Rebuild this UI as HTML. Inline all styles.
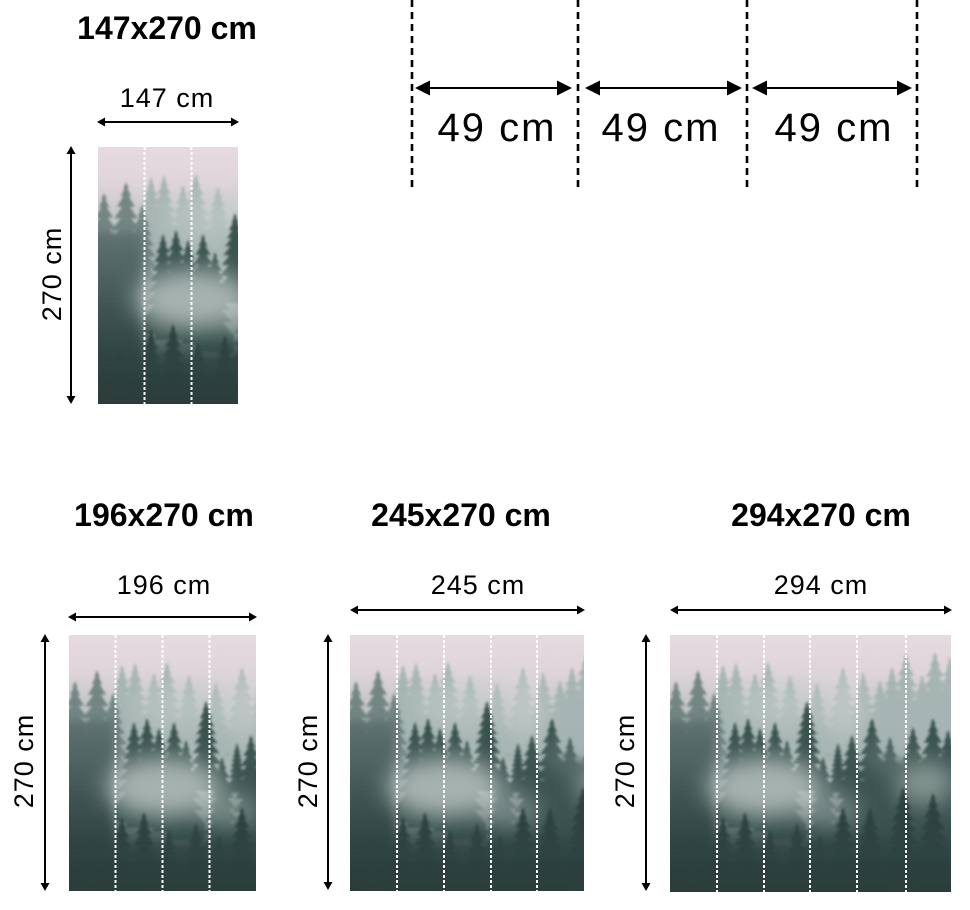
<!DOCTYPE html>
<html><head><meta charset="utf-8">
<style>
html,body{margin:0;padding:0;background:#fff;width:970px;height:910px;overflow:hidden;}
svg{display:block;}
text{font-family:"Liberation Sans",sans-serif;fill:#000;}
.t{font-weight:bold;font-size:32px;}
.l{font-size:27px;letter-spacing:1px;}
.b{font-size:40px;letter-spacing:2px;}
</style></head>
<body>
<svg width="970" height="910" viewBox="0 0 970 910" xmlns="http://www.w3.org/2000/svg">
<defs>
<linearGradient id="sky" x1="0" y1="0" x2="0" y2="1">
<stop offset="0" stop-color="#e7dbe1"/>
<stop offset="0.15" stop-color="#ded4d9"/>
<stop offset="0.35" stop-color="#b2bdbb"/>
<stop offset="0.65" stop-color="#748684"/>
<stop offset="1" stop-color="#344846"/>
</linearGradient>
<linearGradient id="leftdark" x1="0" y1="0" x2="0" y2="1">
<stop offset="0" stop-color="#5d716f" stop-opacity="0.9"/>
<stop offset="0.45" stop-color="#3d5250" stop-opacity="1"/>
<stop offset="1" stop-color="#233533" stop-opacity="1"/>
</linearGradient>
<linearGradient id="botdark" x1="0" y1="0" x2="0" y2="1">
<stop offset="0" stop-color="#2e4341" stop-opacity="0"/>
<stop offset="0.35" stop-color="#2e4341" stop-opacity="0.9"/>
<stop offset="1" stop-color="#283b39" stop-opacity="1"/>
</linearGradient>
<filter id="b1" x="-20%" y="-20%" width="140%" height="140%"><feGaussianBlur stdDeviation="1.4"/></filter>
<filter id="b12" x="-60%" y="-60%" width="220%" height="220%"><feGaussianBlur stdDeviation="12"/></filter>
<filter id="b5" x="-50%" y="-50%" width="200%" height="200%"><feGaussianBlur stdDeviation="5"/></filter>
<path id="tr" d="M0,0 L2,5 L1,5 L4,11 L2,11 L7,19 L3,19 L9,28 L4,28 L11,37 L5,37 L13,47 L6,47 L15,58 L7,58 L17,70 L8,70 L19,84 L19,100 L-19,100 L-19,84 L-8,70 L-17,70 L-7,58 L-15,58 L-6,47 L-13,47 L-5,37 L-11,37 L-4,28 L-9,28 L-3,19 L-7,19 L-2,11 L-4,11 L-1,5 L-2,5 Z"/>
<path id="tn" d="M0,0 L2,5 L1,5 L4,11 L2,11 L7,19 L3,19 L9,28 L4,28 L11,37 L5,37 L13,47 L6,47 L15,58 L15,80 L-15,80 L-15,58 L-6,47 L-13,47 L-5,37 L-11,37 L-4,28 L-9,28 L-3,19 L-7,19 L-2,11 L-4,11 L-1,5 L-2,5 Z"/>
<g id="forest">
<rect x="0" y="0" width="282" height="257" fill="url(#sky)"/>
<g filter="url(#b1)" fill="#a6b5b3">
<use href="#tr" transform="translate(53,30) scale(1)"/>
<use href="#tr" transform="translate(66,28) scale(1)"/>
<use href="#tr" transform="translate(85,38) scale(1)"/>
<use href="#tr" transform="translate(98,27) scale(1.1)"/>
<use href="#tr" transform="translate(120,40) scale(1)"/>
<use href="#tr" transform="translate(147,48) scale(1)"/>
<use href="#tr" transform="translate(173,32) scale(1.2)"/>
<use href="#tr" transform="translate(193,37) scale(1)"/>
<use href="#tr" transform="translate(210,45) scale(1)"/>
<use href="#tr" transform="translate(222,32) scale(1)"/>
<use href="#tr" transform="translate(236,18) scale(1.2)"/>
<use href="#tr" transform="translate(252,40) scale(1)"/>
<use href="#tr" transform="translate(265,17) scale(1.3)"/>
<use href="#tr" transform="translate(280,22) scale(1)"/>
</g>
<g filter="url(#b1)" fill="#738684">
<use href="#tr" transform="translate(6,46) scale(1.3)"/>
<use href="#tr" transform="translate(28,35) scale(1.3)"/>
<use href="#tr" transform="translate(44,58) scale(1.1)"/>
</g>
<rect x="-10" y="85" width="55" height="180" fill="url(#leftdark)" filter="url(#b5)"/>
<ellipse cx="110" cy="70" rx="45" ry="24" fill="#c9d1d0" opacity="0.45" filter="url(#b12)"/>
<ellipse cx="175" cy="70" rx="16" ry="34" fill="#dcdadd" opacity="0.55" filter="url(#b12)"/>
<g filter="url(#b1)" fill="#3b5250">
<use href="#tr" transform="translate(65,87) scale(1)"/>
<use href="#tr" transform="translate(78,83) scale(1.1)"/>
<use href="#tr" transform="translate(90,93) scale(1)"/>
<use href="#tr" transform="translate(105,87) scale(1.1)"/>
<use href="#tr" transform="translate(117,105) scale(1)"/>
<use href="#tr" transform="translate(137,66) scale(0.9)"/>
<use href="#tr" transform="translate(153,122) scale(1.1)"/>
<use href="#tr" transform="translate(168,108) scale(0.5)"/>
<use href="#tr" transform="translate(182,100) scale(1.1)"/>
<use href="#tr" transform="translate(202,83) scale(1.3)"/>
<use href="#tr" transform="translate(220,102) scale(1.1)"/>
<use href="#tr" transform="translate(243,92) scale(1.2)"/>
<use href="#tr" transform="translate(263,83) scale(1.3)"/>
<use href="#tr" transform="translate(278,95) scale(1.1)"/>
</g>
<rect x="195" y="125" width="95" height="140" fill="#3b5250" filter="url(#b5)"/>
<ellipse cx="95" cy="152" rx="58" ry="30" fill="#d0d8d7" opacity="0.72" filter="url(#b12)"/>
<ellipse cx="255" cy="148" rx="30" ry="22" fill="#c3cdcb" opacity="0.55" filter="url(#b12)"/>
<ellipse cx="160" cy="175" rx="30" ry="18" fill="#b9c5c3" opacity="0.45" filter="url(#b12)"/>
<ellipse cx="215" cy="120" rx="20" ry="14" fill="#9aaba9" opacity="0.4" filter="url(#b12)"/>
<g filter="url(#b1)" fill="#2d4240">
<use href="#tn" transform="translate(22,200) scale(0.9)"/>
<use href="#tn" transform="translate(53,182) scale(1.1)"/>
<use href="#tn" transform="translate(75,177) scale(1.2)"/>
<use href="#tn" transform="translate(100,195) scale(1)"/>
<use href="#tn" transform="translate(127,188) scale(1.05)"/>
<use href="#tn" transform="translate(150,200) scale(0.9)"/>
<use href="#tn" transform="translate(173,172) scale(1.1)"/>
<use href="#tn" transform="translate(200,172) scale(1.2)"/>
<use href="#tn" transform="translate(233,152) scale(1.2)"/>
<use href="#tn" transform="translate(263,158) scale(1.3)"/>
</g>
<rect x="-10" y="190" width="302" height="75" fill="url(#botdark)" filter="url(#b5)"/>
</g>
</defs>

<!-- Top-left panel -->
<text class="t" x="167" y="39" text-anchor="middle">147x270 cm</text>
<text class="l" x="167" y="107" text-anchor="middle">147 cm</text>
<line x1="104" y1="122" x2="232" y2="122" stroke="#000" stroke-width="2"/>
<polygon points="97,122 105,117.5 105,126.5" fill="#000"/>
<polygon points="239,122 231,117.5 231,126.5" fill="#000"/>
<line x1="71" y1="152" x2="71" y2="398" stroke="#000" stroke-width="2"/>
<polygon points="71,146 66.5,154 75.5,154" fill="#000"/>
<polygon points="71,404 66.5,396 75.5,396" fill="#000"/>
<text class="l" transform="translate(61,274) rotate(-90)" text-anchor="middle">270 cm</text>
<svg x="98" y="147" width="140" height="257" viewBox="0 0 140 257"><use href="#forest"/>
<g stroke="#fff" stroke-width="2" stroke-dasharray="3 2"><line x1="46.5" y1="0" x2="46.5" y2="257"/><line x1="93.5" y1="0" x2="93.5" y2="257"/></g></svg>

<!-- Top-right dashed strip guide -->
<g stroke="#000" stroke-width="2.6" stroke-dasharray="7 5">
<line x1="412" y1="0" x2="412" y2="190"/>
<line x1="578" y1="0" x2="578" y2="190"/>
<line x1="747" y1="0" x2="747" y2="190"/>
<line x1="917" y1="0" x2="917" y2="190"/>
</g>
<g stroke="#000" stroke-width="2">
<line x1="425" y1="88" x2="562" y2="88"/>
<line x1="595" y1="88" x2="732" y2="88"/>
<line x1="762" y1="88" x2="902" y2="88"/>
</g>
<g fill="#000">
<polygon points="415,88 430,80.5 430,95.5"/>
<polygon points="572,88 557,80.5 557,95.5"/>
<polygon points="585,88 600,80.5 600,95.5"/>
<polygon points="742,88 727,80.5 727,95.5"/>
<polygon points="752,88 767,80.5 767,95.5"/>
<polygon points="912,88 897,80.5 897,95.5"/>
</g>
<text class="b" x="497" y="141" text-anchor="middle">49 cm</text>
<text class="b" x="661" y="141" text-anchor="middle">49 cm</text>
<text class="b" x="834" y="141" text-anchor="middle">49 cm</text>

<!-- Bottom panel 1: 196 -->
<text class="t" x="164" y="526" text-anchor="middle">196x270 cm</text>
<text class="l" x="164" y="594" text-anchor="middle">196 cm</text>
<line x1="75" y1="617" x2="250" y2="617" stroke="#000" stroke-width="2"/>
<polygon points="68,617 76,612.5 76,621.5" fill="#000"/>
<polygon points="257,617 249,612.5 249,621.5" fill="#000"/>
<line x1="45" y1="640" x2="45" y2="885" stroke="#000" stroke-width="2"/>
<polygon points="45,634 40.5,642 49.5,642" fill="#000"/>
<polygon points="45,891 40.5,883 49.5,883" fill="#000"/>
<text class="l" transform="translate(33,761) rotate(-90)" text-anchor="middle">270 cm</text>
<svg x="69" y="635" width="187" height="256" viewBox="0 0 187 256"><use href="#forest"/>
<g stroke="#fff" stroke-width="2" stroke-dasharray="3 2"><line x1="46.5" y1="0" x2="46.5" y2="256"/><line x1="93.5" y1="0" x2="93.5" y2="256"/><line x1="140.5" y1="0" x2="140.5" y2="256"/></g></svg>

<!-- Bottom panel 2: 245 -->
<text class="t" x="461" y="526" text-anchor="middle">245x270 cm</text>
<text class="l" x="478" y="594" text-anchor="middle">245 cm</text>
<line x1="357" y1="610" x2="578" y2="610" stroke="#000" stroke-width="2"/>
<polygon points="350,610 358,605.5 358,614.5" fill="#000"/>
<polygon points="585,610 577,605.5 577,614.5" fill="#000"/>
<line x1="328" y1="640" x2="328" y2="884" stroke="#000" stroke-width="2"/>
<polygon points="328,634 323.5,642 332.5,642" fill="#000"/>
<polygon points="328,890 323.5,882 332.5,882" fill="#000"/>
<text class="l" transform="translate(317,761) rotate(-90)" text-anchor="middle">270 cm</text>
<svg x="350" y="635" width="234" height="256" viewBox="0 0 234 256"><use href="#forest"/>
<g stroke="#fff" stroke-width="2" stroke-dasharray="3 2"><line x1="47" y1="0" x2="47" y2="256"/><line x1="94" y1="0" x2="94" y2="256"/><line x1="141" y1="0" x2="141" y2="256"/><line x1="187" y1="0" x2="187" y2="256"/></g></svg>

<!-- Bottom panel 3: 294 -->
<text class="t" x="821" y="526" text-anchor="middle">294x270 cm</text>
<text class="l" x="821" y="594" text-anchor="middle">294 cm</text>
<line x1="677" y1="610" x2="945" y2="610" stroke="#000" stroke-width="2"/>
<polygon points="670,610 678,605.5 678,614.5" fill="#000"/>
<polygon points="952,610 944,605.5 944,614.5" fill="#000"/>
<line x1="646" y1="640" x2="646" y2="885" stroke="#000" stroke-width="2"/>
<polygon points="646,634 641.5,642 650.5,642" fill="#000"/>
<polygon points="646,891 641.5,883 650.5,883" fill="#000"/>
<text class="l" transform="translate(634,761) rotate(-90)" text-anchor="middle">270 cm</text>
<svg x="670" y="635" width="281" height="257" viewBox="0 0 281 257"><use href="#forest"/>
<g stroke="#fff" stroke-width="2" stroke-dasharray="3 2"><line x1="47" y1="0" x2="47" y2="257"/><line x1="94" y1="0" x2="94" y2="257"/><line x1="140" y1="0" x2="140" y2="257"/><line x1="187" y1="0" x2="187" y2="257"/><line x1="236" y1="0" x2="236" y2="257"/></g></svg>
</svg>
</body></html>
